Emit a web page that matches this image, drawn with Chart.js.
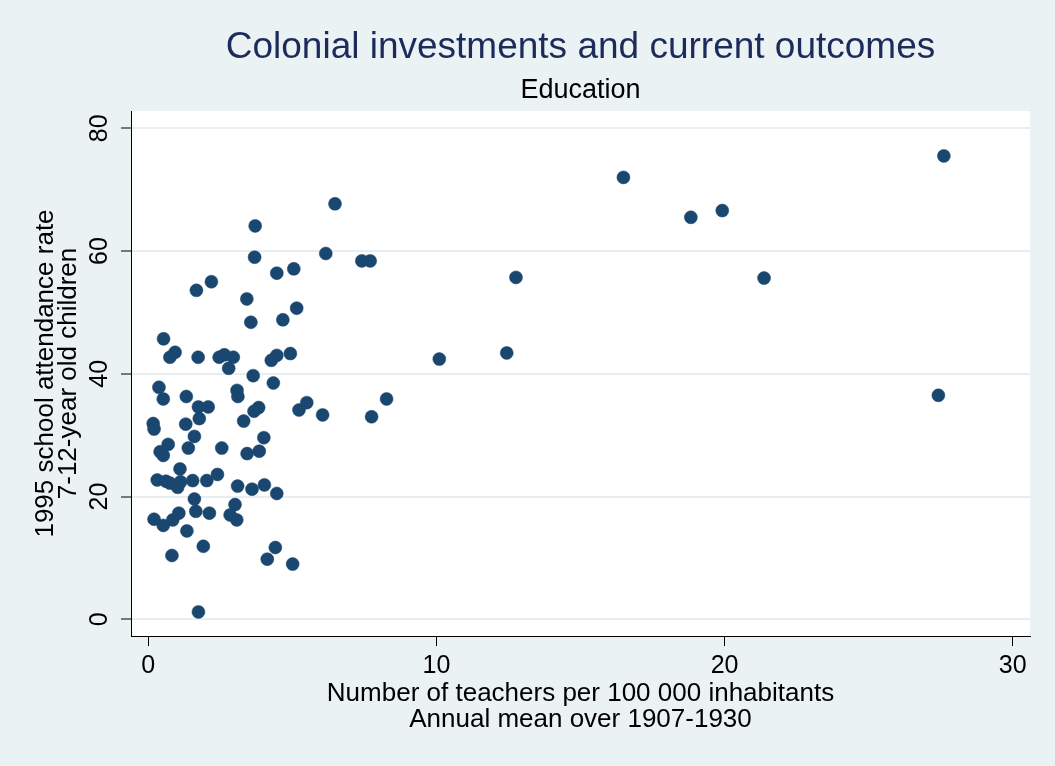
<!DOCTYPE html>
<html>
<head>
<meta charset="utf-8">
<script src="https://cdn.jsdelivr.net/npm/chart.js@4"></script>
<style>
  html, body { margin: 0; padding: 0; background: #eaf2f3; }
  #wrap { width: 1055px; height: 766px; }
</style>
</head>
<body>
<div id="wrap"><canvas id="chart" width="1055" height="766"></canvas></div>
<script>
// teachers per 100 000 inhabitants (1907-1930 mean) vs 1995 attendance rate
const teachers = [
  3.71, 3.69, 4.46, 5.05, 1.67, 2.19, 3.42, 5.15, 3.56, 4.67,
  0.53, 0.93, 0.75, 1.73, 2.46, 2.64, 2.95, 2.79, 4.27, 4.46,
  4.93, 3.64, 4.34, 0.37, 0.52, 1.32, 3.08, 3.11, 1.74, 2.08,
  1.77, 3.31, 3.67, 3.83, 5.23, 5.50, 0.17, 0.20, 1.30, 1.60,
  0.69, 0.41, 0.52, 1.39, 2.55, 4.01, 3.43, 3.85, 1.10, 0.31,
  0.61, 0.75, 1.02, 1.12, 1.54, 2.03, 2.40, 3.10, 3.60, 4.03,
  4.46, 1.60, 3.01, 1.65, 2.12, 2.84, 3.07, 0.20, 0.52, 0.85,
  1.06, 1.34, 1.91, 0.82, 4.41, 4.13, 5.01, 1.74,
  6.48, 6.16, 7.41, 7.70, 12.76, 10.10, 12.44, 8.27, 7.75, 6.05,
  16.49, 18.83, 19.92, 21.37, 27.61, 27.42
];
const attendance = [
  64.1, 59.0, 56.4, 57.1, 53.6, 55.0, 52.2, 50.7, 48.4, 48.8,
  45.7, 43.5, 42.7, 42.7, 42.7, 43.1, 42.7, 40.9, 42.2, 43.0,
  43.3, 39.7, 38.5, 37.8, 35.9, 36.3, 37.3, 36.3, 34.6, 34.6,
  32.7, 32.3, 33.9, 34.5, 34.1, 35.3, 31.9, 31.0, 31.8, 29.8,
  28.5, 27.3, 26.7, 27.9, 27.9, 29.6, 27.0, 27.4, 24.5, 22.7,
  22.5, 22.2, 21.5, 22.4, 22.6, 22.6, 23.6, 21.7, 21.2, 21.9,
  20.5, 19.6, 18.7, 17.6, 17.3, 17.0, 16.2, 16.3, 15.3, 16.2,
  17.3, 14.4, 11.9, 10.4, 11.7, 9.8, 9.0, 1.2,
  67.7, 59.6, 58.4, 58.4, 55.7, 42.4, 43.4, 35.9, 33.0, 33.3,
  72.0, 65.5, 66.6, 55.6, 75.5, 36.5
];
const xTicks = [0, 10, 20, 30];
const yTicks = [0, 20, 40, 60, 80];

const titleText = 'Colonial investments and current outcomes';
const subtitleText = 'Education';
const xTitle = ['Number of teachers per 100 000 inhabitants', 'Annual mean over 1907-1930'];
const yTitle = ['1995 school attendance rate', '7-12-year old children'];

const FONT = '"Liberation Sans", Arial, Helvetica, sans-serif';
Chart.defaults.font.family = FONT;
Chart.defaults.color = '#000';

const points = teachers.map((t, i) => ({ x: t, y: attendance[i] }));

// background, plot region, titles and rotated y tick labels (Stata look)
const stataLook = {
  id: 'stataLook',
  beforeDraw(chart) {
    const { ctx, chartArea: a } = chart;
    ctx.save();
    ctx.fillStyle = '#eaf2f3';
    ctx.fillRect(0, 0, chart.width, chart.height);
    ctx.fillStyle = '#ffffff';
    ctx.fillRect(a.left, a.top, a.right - a.left, a.bottom - a.top);
    ctx.restore();
  },
  afterDraw(chart) {
    const { ctx, chartArea: a } = chart;
    const cx = (a.left + a.right) / 2;
    ctx.save();
    ctx.textAlign = 'center';
    ctx.textBaseline = 'middle';
    ctx.fillStyle = '#1c2b5a';
    ctx.font = '37px ' + FONT;
    ctx.fillText(titleText, cx, 48);
    ctx.fillStyle = '#000';
    ctx.font = '27px ' + FONT;
    ctx.fillText(subtitleText, cx, 91);

    const ys = chart.scales.y;
    ctx.font = '25px ' + FONT;
    yTicks.forEach(v => {
      ctx.save();
      ctx.translate(100, ys.getPixelForValue(v));
      ctx.rotate(-Math.PI / 2);
      ctx.fillText(String(v), 0, 0);
      ctx.restore();
    });
    ctx.restore();
  }
};

new Chart(document.getElementById('chart'), {
  type: 'scatter',
  data: {
    datasets: [{
      data: points,
      backgroundColor: '#1a476f',
      borderColor: '#1a476f',
      borderWidth: 0.5,
      pointRadius: 6.5,
      pointHoverRadius: 6.5
    }]
  },
  options: {
    responsive: false,
    animation: false,
    devicePixelRatio: 1,
    events: [],
    layout: { padding: { top: 111, right: 25, bottom: 33, left: 0 } },
    plugins: {
      legend: { display: false },
      tooltip: { enabled: false }
    },
    scales: {
      x: {
        type: 'linear',
        min: -0.6, max: 30.6,
        afterBuildTicks: s => { s.ticks = xTicks.map(v => ({ value: v })); },
        afterFit: s => { s.height = 97; },
        grid: { drawOnChartArea: false, color: '#000', tickColor: '#000', tickLength: 10, tickWidth: 1 },
        border: { display: true, color: '#000', width: 1 },
        ticks: { font: { size: 25 }, padding: 5, maxRotation: 0, color: '#000' },
        title: {
          display: true,
          text: xTitle,
          font: { size: 26, lineHeight: 1.0 },
          padding: { top: 0, bottom: 0 },
          color: '#000'
        }
      },
      y: {
        type: 'linear',
        min: -2.72, max: 82.82,
        afterBuildTicks: s => { s.ticks = yTicks.map(v => ({ value: v })); },
        afterFit: s => { s.width = 131; },
        grid: { color: '#e6eef0', lineWidth: 2, tickColor: '#000', tickLength: 10, tickWidth: 1 },
        border: { display: true, color: '#000', width: 1 },
        ticks: { display: false },
        title: {
          display: true,
          text: yTitle,
          font: { size: 26, lineHeight: 0.9 },
          padding: { top: 33.8, bottom: 0 },
          color: '#000'
        }
      }
    }
  },
  plugins: [stataLook]
});
</script>
</body>
</html>
